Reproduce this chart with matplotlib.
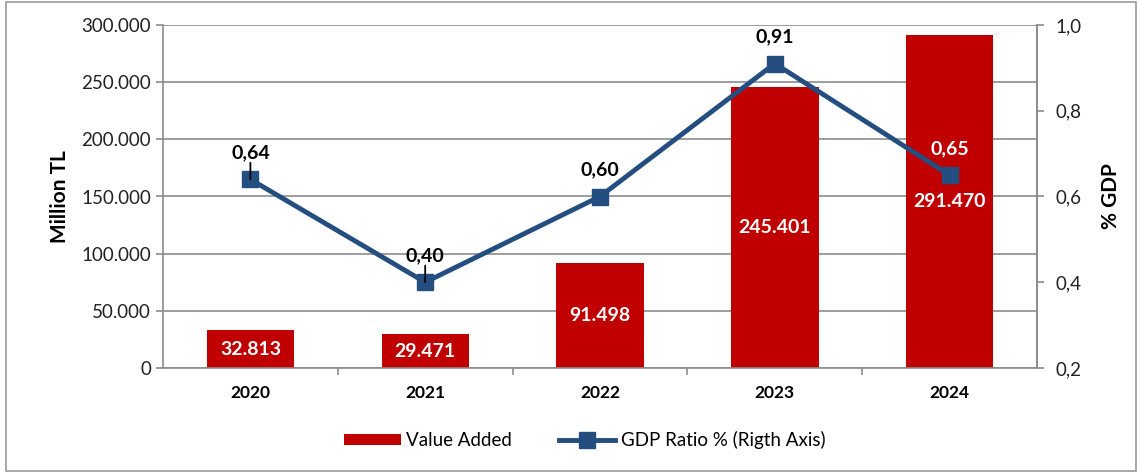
import matplotlib.pyplot as plt
from matplotlib.patches import Rectangle
from matplotlib.ticker import FuncFormatter, MultipleLocator

plt.rcParams["font.family"] = ["Lato", "DejaVu Sans"]

years = ["2020", "2021", "2022", "2023", "2024"]
value_added = [32813, 29471, 91498, 245401, 291470]
gdp_ratio = [0.64, 0.40, 0.60, 0.91, 0.65]
# label colour for each ratio point (the last one sits on a bar)
ratio_label_colors = ["black", "black", "black", "black", "white"]
ratio_leader = [True, True, False, False, False]

BAR_COLOR = "#C00000"
LINE_COLOR = "#254E80"
GRID_COLOR = "#8C8C8C"


def thousands(v, _pos=None):
    return f"{int(round(v)):,}".replace(",", ".")


def decimal_comma(v, _pos=None):
    return f"{v:.1f}".replace(".", ",")


fig = plt.figure(figsize=(11.39, 4.74), dpi=100)
fig.patches.append(Rectangle((6 / 1139, 3 / 474), 1130 / 1139, 469 / 474,
                             transform=fig.transFigure, fill=False,
                             edgecolor="#9A9A9A", linewidth=1.2))

ax = fig.add_axes([163 / 1139, 106 / 474, 874 / 1139, 343 / 474])
x = list(range(len(years)))

bars = ax.bar(x, value_added, width=0.5, color=BAR_COLOR, zorder=2)
for b, v in zip(bars, value_added):
    ax.text(b.get_x() + b.get_width() / 2, v / 2, thousands(v),
            ha="center", va="center", color="white", fontsize=14,
            fontweight="bold", zorder=3)

ax.set_ylim(0, 300000)
ax.set_xlim(-0.5, len(years) - 0.5)
ax.yaxis.set_major_locator(MultipleLocator(50000))
ax.yaxis.set_major_formatter(FuncFormatter(thousands))
ax.grid(axis="y", color=GRID_COLOR, linewidth=1.2, zorder=0)
ax.set_axisbelow(True)
ax.set_ylabel("Million TL", fontsize=15, fontweight="bold", labelpad=8)

ax.set_xticks(x)
ax.set_xticklabels(years, fontsize=12.5, fontweight="bold")
ax.set_xticks([i + 0.5 for i in x[:-1]], minor=True)
ax.tick_params(axis="x", which="major", length=0, pad=12)
ax.tick_params(axis="x", which="minor", length=5, color=GRID_COLOR, width=1.2)
ax.tick_params(axis="y", length=5, color=GRID_COLOR, width=1.2,
               labelsize=13.5, labelcolor="#222222")

ax.spines["top"].set_visible(False)
for side in ["left", "bottom", "right"]:
    ax.spines[side].set_color(GRID_COLOR)
    ax.spines[side].set_linewidth(1.2)

ax2 = ax.twinx()
ax2.set_ylim(0.2, 1.0)
ax2.yaxis.set_major_locator(MultipleLocator(0.2))
ax2.yaxis.set_major_formatter(FuncFormatter(decimal_comma))
ax2.tick_params(axis="y", length=5, color=GRID_COLOR, width=1.2,
                labelsize=13.5, labelcolor="#222222", pad=8)
ax2.spines["top"].set_visible(False)
ax2.spines["right"].set_color(GRID_COLOR)
ax2.spines["right"].set_linewidth(1.2)
ax2.spines["left"].set_visible(False)
ax2.spines["bottom"].set_visible(False)
ax2.set_ylabel("% GDP", fontsize=15, fontweight="bold", labelpad=14)

line, = ax2.plot(x, gdp_ratio, color=LINE_COLOR, linewidth=3.5,
                 marker="s", markersize=12, zorder=4)
for xi, r, c, lead in zip(x, gdp_ratio, ratio_label_colors, ratio_leader):
    if lead:
        ax2.annotate("", xy=(xi, r), xytext=(0, 12), textcoords="offset points",
                     arrowprops=dict(arrowstyle="-", color="black", lw=1.3,
                                     shrinkA=0, shrinkB=0), zorder=5)
    ax2.annotate(f"{r:.2f}".replace(".", ","), xy=(xi, r), xytext=(0, 13),
                 textcoords="offset points", ha="center", va="bottom",
                 fontsize=14, fontweight="bold", color=c, zorder=5)

fig.legend([bars, line], ["Value Added", "GDP Ratio % (Rigth Axis)"],
           loc="center", bbox_to_anchor=(585 / 1139, 1 - 440 / 474),
           ncol=2, frameon=False, fontsize=13.5, handlelength=3.0,
           handleheight=0.5, columnspacing=2.5, handletextpad=0.3)

fig.savefig("out.png", dpi=100)
